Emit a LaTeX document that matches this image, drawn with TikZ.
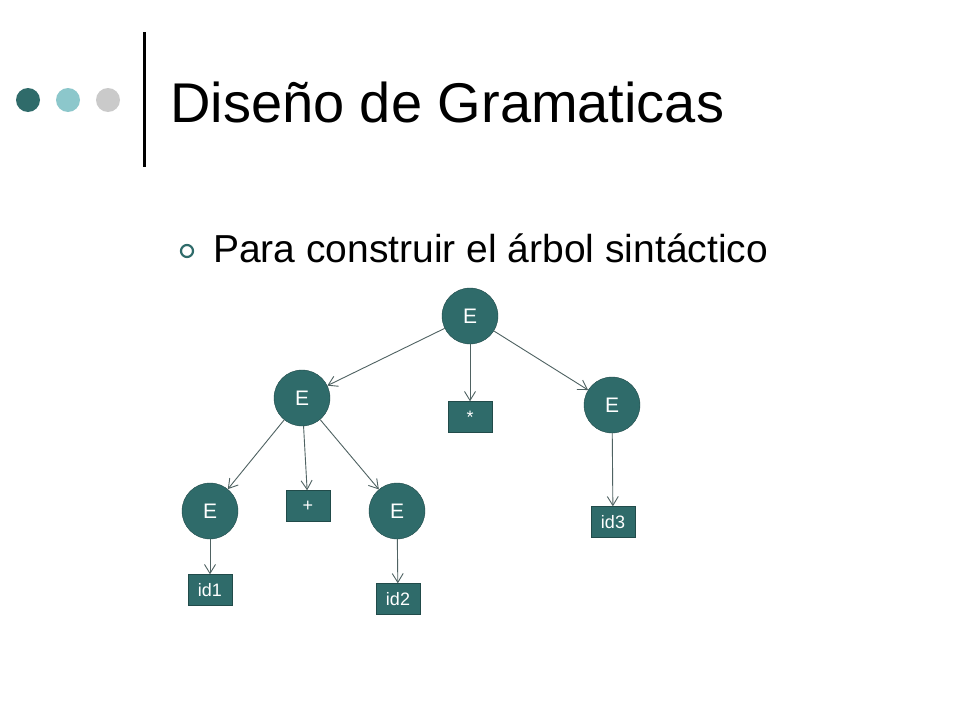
\documentclass[tikz,border=0pt]{standalone}
\usepackage{fontspec}
\setmainfont{Liberation Sans}
\usetikzlibrary{arrows.meta}
\definecolor{teal1}{HTML}{2F6B6A}
\definecolor{teal2}{HTML}{8CC7CB}
\definecolor{grey1}{HTML}{CACACA}
\definecolor{edge}{HTML}{4F6262}
\tikzset{
 cnode/.style={circle,fill=teal1,draw=teal1!70!black,minimum size=56pt,inner sep=0pt,text=white,font=\fontsize{21}{21}\selectfont},
 snode/.style={rectangle,fill=teal1,draw=teal1!70!black,minimum width=44pt,minimum height=31pt,inner sep=0pt,text=white,font=\fontsize{18}{18}\selectfont},
 edgearr/.style={draw=edge,line width=0.9pt,-{Straight Barb[length=9pt,width=11pt]}}
}
\begin{document}
\begin{tikzpicture}[x=1pt,y=-1pt]
\useasboundingbox (0,0) rectangle (960,720);
\fill[white] (0,0) rectangle (960,720);
\fill[teal1] (28,100) circle (12);
\fill[teal2] (68,100) circle (12);
\fill[grey1] (108,100) circle (12);
\draw[line width=3pt] (144,32) -- (144,167);
\node[anchor=base west,inner sep=0pt,font=\fontsize{56}{56}\selectfont] (title) at (170,122) {Diseño de Gramaticas};
\draw[teal1,line width=2.2pt] (187,251) circle (6);
\node[anchor=base west,inner sep=0pt,font=\fontsize{39}{39}\selectfont] (bul) at (213,262) {Para construir el árbol sintáctico};
\node[cnode] (r) at (470,316) {E};
\node[cnode] (l) at (302,398) {E};
\node[cnode] (rr) at (612,405) {E};
\node[cnode] (ll) at (210,511) {E};
\node[cnode] (lr) at (397,511) {E};
\node[snode] (star) at (470,417) {*};
\node[snode] (plus) at (308,506) {+};
\node[snode] (id3) at (613,522) {id3};
\node[snode] (id1) at (210,590) {id1};
\node[snode] (id2) at (398,599) {id2};
\draw[edgearr] (r) -- (l);
\draw[edgearr] (r) -- (star);
\draw[edgearr] (r) -- (rr);
\draw[edgearr] (l) -- (ll);
\draw[edgearr] (l) -- (plus);
\draw[edgearr] (l) -- (lr);
\draw[edgearr] (rr) -- (id3);
\draw[edgearr] (ll) -- (id1);
\draw[edgearr] (lr) -- (id2);
\end{tikzpicture}
\end{document}
